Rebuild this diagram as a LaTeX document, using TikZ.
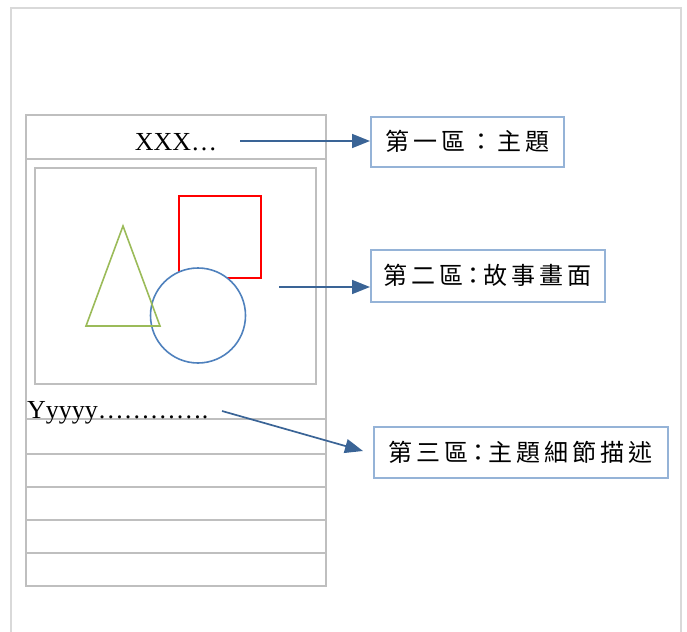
\documentclass[tikz,border=0pt]{standalone}
\usepackage{fontspec}
\setmainfont{Liberation Serif}
\newfontfamily\cjk{Noto Sans CJK TC}
\usetikzlibrary{arrows.meta}
\definecolor{framegray}{HTML}{D9D9D9}
\definecolor{panelgray}{HTML}{BFBFBF}
\definecolor{arrowblue}{HTML}{3A6496}
\definecolor{boxblue}{HTML}{95B3D7}
\definecolor{shapegreen}{HTML}{9BBB59}
\definecolor{shapeblue}{HTML}{4F81BD}
\newcommand{\cc}[1]{\makebox[28pt]{#1}}
\tikzset{
  panel/.style={draw=panelgray, line width=1.6pt},
  label box/.style={draw=boxblue, line width=1.6pt, fill=white, inner sep=0pt, anchor=north west, font=\cjk\fontsize{24pt}{26pt}\selectfont},
  link/.style={draw=arrowblue, line width=1.7pt, -{Triangle[length=18pt,width=14pt]}},
}
\begin{document}
\begin{tikzpicture}[x=1pt,y=-1pt]
\useasboundingbox (0,0) rectangle (687,631);
% outer frame
\draw[framegray, line width=1.8pt] (11,640) -- (11,8) -- (681,8) -- (681,640);
% left panel
\draw[panel] (26,115) rectangle (326,586);
\draw[panel] (26,159) -- (326,159);
\draw[panel] (35,168) rectangle (316,384);
\foreach \yy in {419,454,487,520,553}{\draw[panel] (26,\yy) -- (326,\yy);}
% shapes
\draw[red, line width=1.6pt] (179,196) rectangle (261,278);
\draw[shapeblue, line width=1.6pt, fill=white] (198,315.5) circle (47.5);
\draw[shapegreen, line width=1.6pt] (123,226) -- (160,326) -- (86,326) -- cycle;
% texts
\node[font=\fontsize{26pt}{28pt}\selectfont, inner sep=0pt] (xxx) at (176,142) {XXX…};
\node[font=\fontsize{26pt}{28pt}\selectfont, inner sep=0pt, anchor=base west] (yyy) at (27,418) {Yyyyy………….};
% label boxes
\node[label box, minimum width=193pt, minimum height=50pt] (b1) at (370,116) {\cc{第}\cc{一}\cc{區}\cc{：}\cc{主}\cc{題}};
\node[label box, minimum width=234pt, minimum height=52pt] (b2) at (370,249) {\cc{第}\cc{二}\cc{區}\makebox[16pt]{：}\cc{故}\cc{事}\cc{畫}\cc{面}};
\node[label box, minimum width=294pt, minimum height=51pt] (b3) at (373,426) {\cc{第}\cc{三}\cc{區}\makebox[16pt]{：}\cc{主}\cc{題}\cc{細}\cc{節}\cc{描}\cc{述}};
% arrows
\coordinate (s1) at (240,141);
\coordinate (s2) at (279,287);
\coordinate (s3) at (222,411);
\coordinate (e3) at (363,451);
\draw[link] (s1) -- (s1 -| b1.west);
\draw[link] (s2) -- (s2 -| b2.west);
\draw[link] (s3) -- (e3);
\end{tikzpicture}
\end{document}
